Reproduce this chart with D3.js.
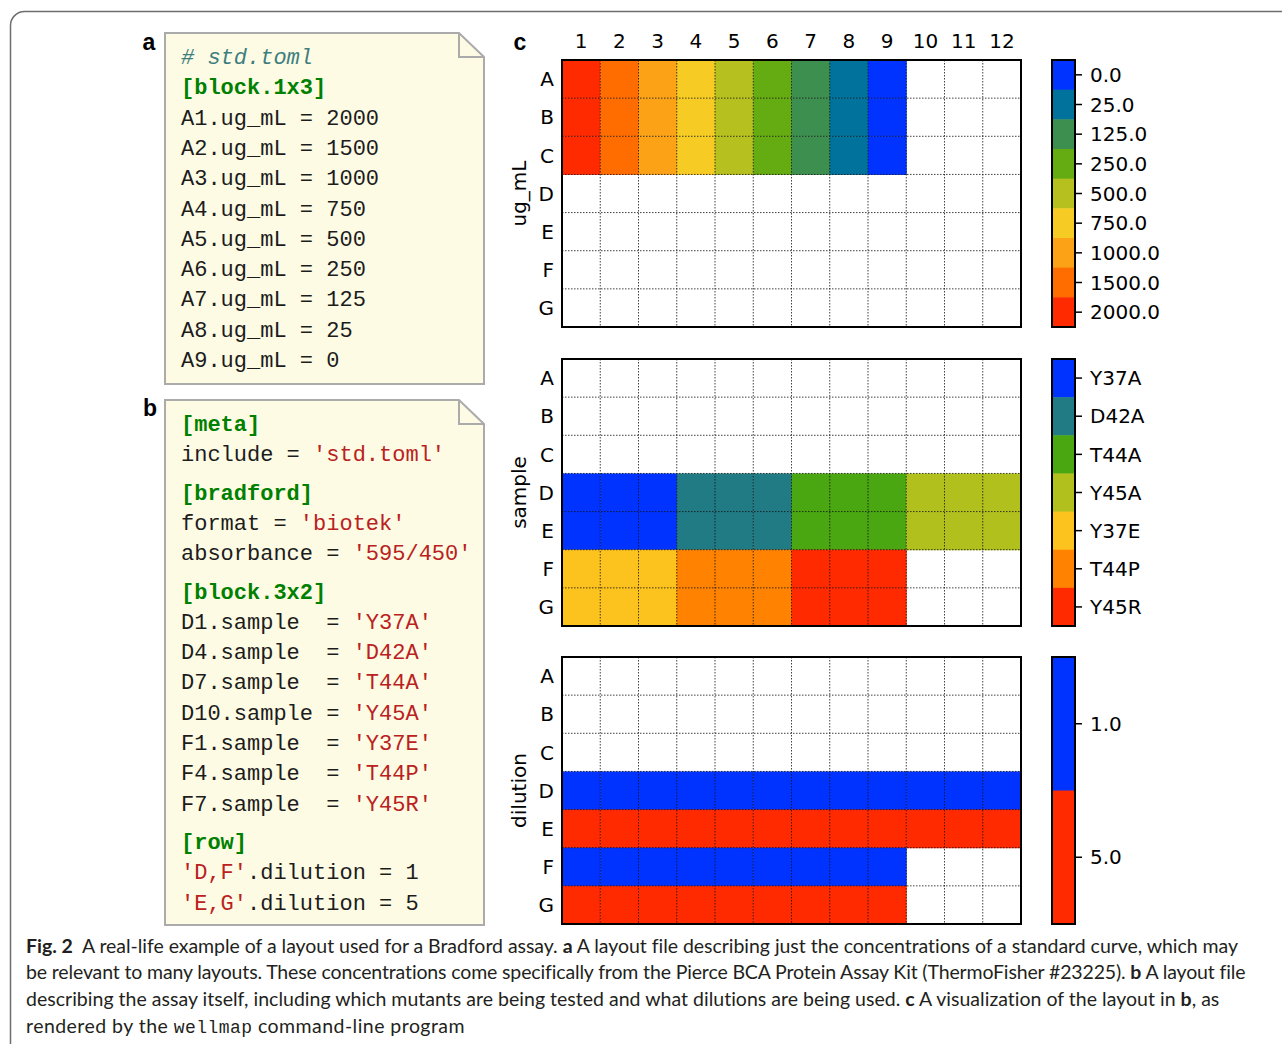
<!DOCTYPE html>
<html>
<head>
<meta charset="utf-8">
<script src="https://cdn.jsdelivr.net/npm/d3@7"></script>
<style>
  body { margin: 0; background: #fff; }
  svg { display: block; }
  .code { font-family: "Liberation Mono", "DejaVu Sans Mono", monospace; font-size: 22px; white-space: pre; }
  .mpl { font-family: "DejaVu Sans", sans-serif; font-size: 20px; fill: #000; }
  .cap { font-family: Lato, "Open Sans", sans-serif; font-size: 19.5px; fill: #231f20; white-space: pre; }
</style>
</head>
<body>
<svg id="fig" width="1282" height="1044"></svg>
<script>
// plate layout
var rowLabels = ["A", "B", "C", "D", "E", "F", "G"];
var colLabels = ["1", "2", "3", "4", "5", "6", "7", "8", "9", "10", "11", "12"];

// ug_mL per well (null = empty)
var ugPlate = [
    [2000, 1500, 1000, 750, 500, 250, 125, 25, 0, null, null, null],
    [2000, 1500, 1000, 750, 500, 250, 125, 25, 0, null, null, null],
    [2000, 1500, 1000, 750, 500, 250, 125, 25, 0, null, null, null],
    [null, null, null, null, null, null, null, null, null, null, null, null],
    [null, null, null, null, null, null, null, null, null, null, null, null],
    [null, null, null, null, null, null, null, null, null, null, null, null],
    [null, null, null, null, null, null, null, null, null, null, null, null]
];
var ugLevels = [0, 25, 125, 250, 500, 750, 1000, 1500, 2000];
var ugColors = ["#0033ff", "#00729c", "#3d8f4f", "#65ab12", "#b6c01e", "#f6cc24", "#fca217", "#ff6d00", "#ff2a00"];

var samplePlate = [
    [null, null, null, null, null, null, null, null, null, null, null, null],
    [null, null, null, null, null, null, null, null, null, null, null, null],
    [null, null, null, null, null, null, null, null, null, null, null, null],
    ["Y37A", "Y37A", "Y37A", "D42A", "D42A", "D42A", "T44A", "T44A", "T44A", "Y45A", "Y45A", "Y45A"],
    ["Y37A", "Y37A", "Y37A", "D42A", "D42A", "D42A", "T44A", "T44A", "T44A", "Y45A", "Y45A", "Y45A"],
    ["Y37E", "Y37E", "Y37E", "T44P", "T44P", "T44P", "Y45R", "Y45R", "Y45R", null, null, null],
    ["Y37E", "Y37E", "Y37E", "T44P", "T44P", "T44P", "Y45R", "Y45R", "Y45R", null, null, null]
];
var sampleLevels = ["Y37A", "D42A", "T44A", "Y45A", "Y37E", "T44P", "Y45R"];
var sampleColors = ["#0033ff", "#217b84", "#4aa611", "#b2c01e", "#fcc21e", "#ff8200", "#ff2a00"];

var dilutionPlate = [
    [null, null, null, null, null, null, null, null, null, null, null, null],
    [null, null, null, null, null, null, null, null, null, null, null, null],
    [null, null, null, null, null, null, null, null, null, null, null, null],
    [1, 1, 1, 1, 1, 1, 1, 1, 1, 1, 1, 1],
    [5, 5, 5, 5, 5, 5, 5, 5, 5, 5, 5, 5],
    [1, 1, 1, 1, 1, 1, 1, 1, 1, null, null, null],
    [5, 5, 5, 5, 5, 5, 5, 5, 5, null, null, null]
];
var dilutionLevels = [1, 5];
var dilutionColors = ["#0033ff", "#ff2a00"];

// toml listings: [text, kind]
var stdToml = [
    [["# std.toml", "comment"]],
    [["[block.1x3]", "header"]],
    [["A1.ug_mL = 2000", "plain"]],
    [["A2.ug_mL = 1500", "plain"]],
    [["A3.ug_mL = 1000", "plain"]],
    [["A4.ug_mL = 750", "plain"]],
    [["A5.ug_mL = 500", "plain"]],
    [["A6.ug_mL = 250", "plain"]],
    [["A7.ug_mL = 125", "plain"]],
    [["A8.ug_mL = 25", "plain"]],
    [["A9.ug_mL = 0", "plain"]]
];
var layoutToml = [
    [["[meta]", "header"]],
    [["include = ", "plain"], ["'std.toml'", "string"]],
    [["[bradford]", "header"]],
    [["format = ", "plain"], ["'biotek'", "string"]],
    [["absorbance = ", "plain"], ["'595/450'", "string"]],
    [["[block.3x2]", "header"]],
    [["D1.sample  = ", "plain"], ["'Y37A'", "string"]],
    [["D4.sample  = ", "plain"], ["'D42A'", "string"]],
    [["D7.sample  = ", "plain"], ["'T44A'", "string"]],
    [["D10.sample = ", "plain"], ["'Y45A'", "string"]],
    [["F1.sample  = ", "plain"], ["'Y37E'", "string"]],
    [["F4.sample  = ", "plain"], ["'T44P'", "string"]],
    [["F7.sample  = ", "plain"], ["'Y45R'", "string"]],
    [["[row]", "header"]],
    [["'D,F'", "string"], [".dilution = 1", "plain"]],
    [["'E,G'", "string"], [".dilution = 5", "plain"]]
];

var captionLines = [
    [["Fig. 2", "b"], ["  A real-life example of a layout used for a Bradford assay. ", ""], ["a", "b"], [" A layout file describing just the concentrations of a standard curve, which may", ""]],
    [["be relevant to many layouts. These concentrations come specifically from the Pierce BCA Protein Assay Kit (ThermoFisher #23225). ", ""], ["b", "b"], [" A layout file", ""]],
    [["describing the assay itself, including which mutants are being tested and what dilutions are being used. ", ""], ["c", "b"], [" A visualization of the layout in ", ""], ["b", "b"], [", as", ""]],
    [["rendered by the ", ""], ["wellmap", "m"], [" command-line program", ""]]
];
var captionWidths = [1212, 1219, 1194, 439];

var svg = d3.select("#fig");

// outer frame
svg.append("rect")
    .attr("x", 10.5).attr("y", 11.5)
    .attr("width", 1300).attr("height", 1100)
    .attr("rx", 14)
    .attr("fill", "none")
    .attr("stroke", "#6e6e6e")
    .attr("stroke-width", 1.5);

// panel letters
function panelLetter(t, x, y) {
    svg.append("text").text(t)
        .attr("x", x).attr("y", y)
        .attr("text-anchor", "middle")
        .style("font-family", "Liberation Sans, Arial, sans-serif")
        .style("font-weight", "bold")
        .style("font-size", "23px");
}
panelLetter("a", 149, 50);
panelLetter("b", 150, 416);
panelLetter("c", 520, 50);

var codeColors = { comment: "#3d7f7f", header: "#008000", string: "#ba2121", plain: "#1c1c1c" };

function noteBox(x0, y0, x1, y1, lines, firstBaseline) {
    var fold = 25;
    var g = svg.append("g");
    g.append("path")
        .attr("d", "M" + x0 + "," + y0 + "H" + (x1 - fold) + "L" + x1 + "," + (y0 + fold - 1) + "V" + y1 + "H" + x0 + "Z")
        .attr("fill", "#fdfbe4")
        .attr("stroke", "#ababab")
        .attr("stroke-width", 2);
    g.append("path")
        .attr("d", "M" + (x1 - fold) + "," + y0 + "V" + (y0 + fold - 1) + "H" + x1)
        .attr("fill", "none")
        .attr("stroke", "#ababab")
        .attr("stroke-width", 2);
    var y = firstBaseline;
    lines.forEach(function (line, i) {
        if (i > 0) {
            y += 30.3;
            if (line[0][1] === "header" && lines[i - 1][0][1] !== "comment") y += 8;
        }
        var t = g.append("text").attr("class", "code")
            .attr("x", x0 + 16).attr("y", y)
            .attr("xml:space", "preserve");
        line.forEach(function (tok) {
            t.append("tspan").text(tok[0])
                .attr("fill", codeColors[tok[1]])
                .style("font-style", tok[1] === "comment" ? "italic" : null)
                .style("font-weight", tok[1] === "header" ? "bold" : null);
        });
    });
}
noteBox(165, 33, 484, 384, stdToml, 64);
noteBox(165, 400, 484, 925, layoutToml, 431);

// heatmaps
var x = d3.scaleBand().domain(colLabels).range([562, 1021]);
var cbW = 23, cbX = 1052;

function heatmap(y0, y1, plate, levels, colors, title, showCols, fmt) {
    var y = d3.scaleBand().domain(rowLabels).range([y0, y1]);
    var color = d3.scaleOrdinal().domain(levels).range(colors);
    var g = svg.append("g");
    var cells = [];
    plate.forEach(function (row, r) {
        row.forEach(function (v, c) {
            if (v !== null) cells.push({ row: rowLabels[r], col: colLabels[c], value: v });
        });
    });
    g.selectAll("rect.cell").data(cells).enter().append("rect")
        .attr("class", "cell")
        .attr("x", function (d) { return x(d.col); })
        .attr("y", function (d) { return y(d.row); })
        .attr("width", x.bandwidth() + 0.5)
        .attr("height", y.bandwidth() + 0.5)
        .attr("fill", function (d) { return color(d.value); });
    // dotted grid
    g.selectAll("line.v").data(colLabels.slice(1)).enter().append("line")
        .attr("x1", function (d) { return x(d); }).attr("x2", function (d) { return x(d); })
        .attr("y1", y0).attr("y2", y1)
        .attr("stroke", "#111").attr("stroke-opacity", 0.8)
        .attr("stroke-width", 1).attr("stroke-dasharray", "1.5,1.5");
    g.selectAll("line.h").data(rowLabels.slice(1)).enter().append("line")
        .attr("y1", function (d) { return y(d); }).attr("y2", function (d) { return y(d); })
        .attr("x1", 562).attr("x2", 1021)
        .attr("stroke", "#111").attr("stroke-opacity", 0.8)
        .attr("stroke-width", 1).attr("stroke-dasharray", "1.5,1.5");
    g.append("rect")
        .attr("x", 562).attr("y", y0)
        .attr("width", 1021 - 562).attr("height", y1 - y0)
        .attr("fill", "none").attr("stroke", "#000").attr("stroke-width", 2);

    var yAxis = g.append("g").attr("transform", "translate(562,0)")
        .call(d3.axisLeft(y).tickSize(0).tickPadding(8));
    yAxis.select(".domain").remove();
    yAxis.selectAll("text").attr("class", "mpl").attr("dy", "0.36em");
    yAxis.attr("font-size", null).attr("font-family", null);

    if (showCols) {
        var xAxis = g.append("g").attr("transform", "translate(0," + y0 + ")")
            .call(d3.axisTop(x).tickSize(0).tickPadding(12));
        xAxis.select(".domain").remove();
        xAxis.selectAll("text").attr("class", "mpl");
        xAxis.attr("font-size", null).attr("font-family", null);
    }

    g.append("text").attr("class", "mpl").text(title)
        .attr("transform", "translate(526," + ((y0 + y1) / 2) + ") rotate(-90)")
        .attr("text-anchor", "middle");

    // colour bar
    var cb = d3.scaleBand().domain(levels).range([y0, y1]);
    g.selectAll("rect.cb").data(levels).enter().append("rect")
        .attr("x", cbX).attr("y", function (d) { return cb(d); })
        .attr("width", cbW).attr("height", cb.bandwidth() + 0.5)
        .attr("fill", function (d) { return color(d); });
    g.append("rect")
        .attr("x", cbX).attr("y", y0).attr("width", cbW).attr("height", y1 - y0)
        .attr("fill", "none").attr("stroke", "#000").attr("stroke-width", 2);
    var cAxis = g.append("g").attr("transform", "translate(" + (cbX + cbW) + ",0)")
        .call(d3.axisRight(cb).tickSize(7).tickPadding(8).tickFormat(fmt));
    cAxis.select(".domain").remove();
    cAxis.selectAll("line").attr("stroke", "#000").attr("stroke-width", 1.5);
    cAxis.selectAll("text").attr("class", "mpl").attr("dy", "0.36em");
    cAxis.attr("font-size", null).attr("font-family", null);
}

heatmap(60, 327, ugPlate, ugLevels, ugColors, "ug_mL", true, d3.format(".1f"));
heatmap(359, 626, samplePlate, sampleLevels, sampleColors, "sample", false, null);
heatmap(657, 924, dilutionPlate, dilutionLevels, dilutionColors, "dilution", false, d3.format(".1f"));

// caption: fit each line to the reference width with letter-spacing
var capBase = [953, 979, 1006, 1033];
captionLines.forEach(function (line, i) {
    var t = svg.append("text").attr("class", "cap")
        .attr("x", 26).attr("y", capBase[i])
        .attr("xml:space", "preserve");
    var nChars = 0;
    line.forEach(function (tok) {
        var s = t.append("tspan").text(tok[0]);
        nChars += tok[0].length;
        if (tok[1] === "b") s.style("font-weight", "bold");
        if (tok[1] === "m") s.style("font-family", "Liberation Mono, monospace").style("font-size", "18px");
    });
    var w = t.node().getComputedTextLength();
    var ls = (captionWidths[i] - w) / nChars;
    t.selectAll("tspan").style("letter-spacing", ls + "px");
});
</script>
</body>
</html>
